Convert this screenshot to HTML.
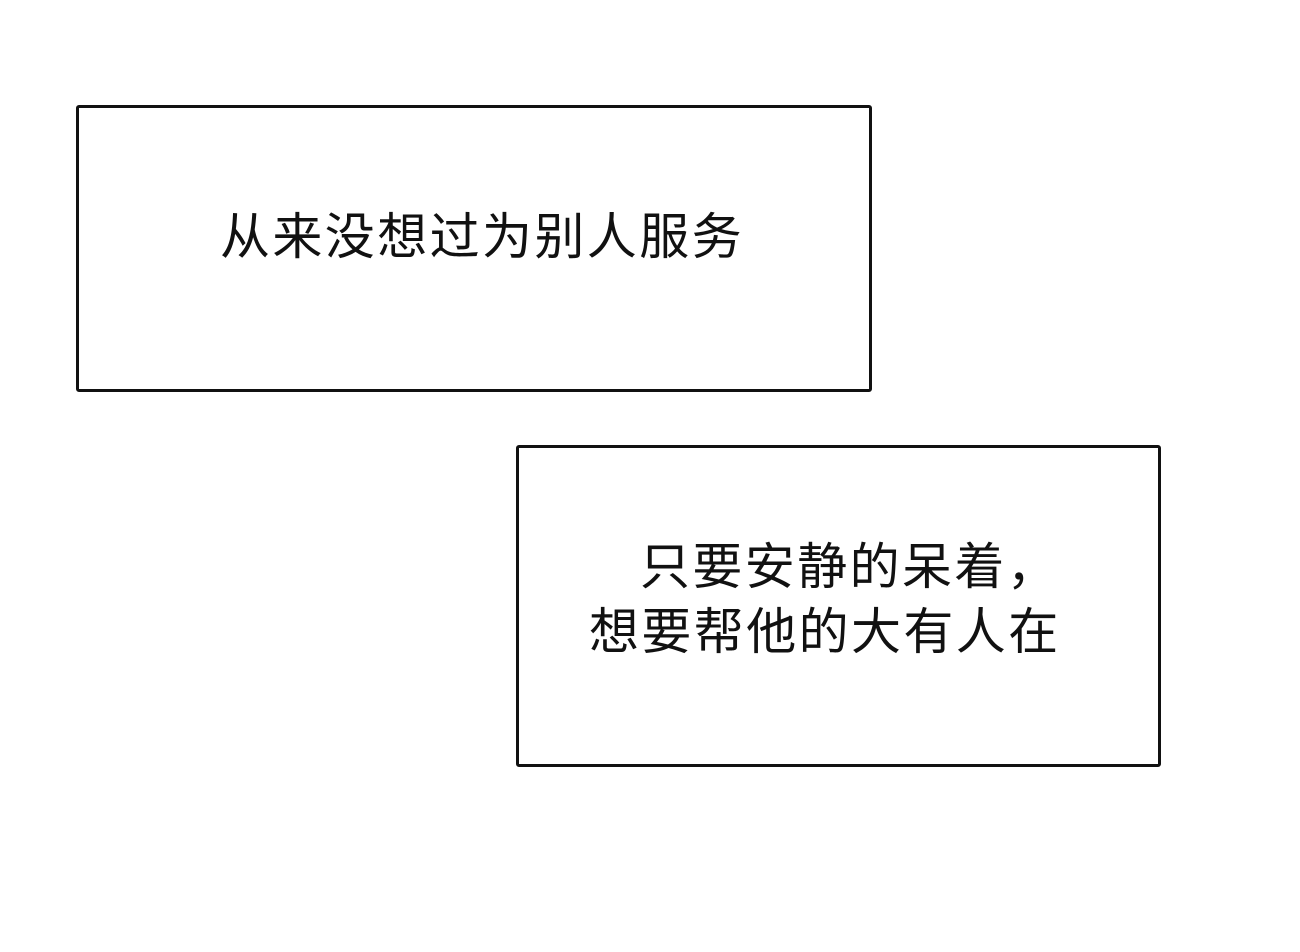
<!DOCTYPE html>
<html><head><meta charset="utf-8"><style>
html,body{margin:0;padding:0;background:#fff;width:1300px;height:952px;overflow:hidden;position:relative}
.box{position:absolute;border:3px solid #111;border-radius:3px;box-sizing:border-box;background:#fff}
.t{position:absolute;font-family:"Liberation Sans","Noto Sans CJK SC",sans-serif;font-size:50px;color:#111;white-space:nowrap;line-height:1;letter-spacing:2.4px}
</style></head><body>
<div class="box" style="left:76px;top:105px;width:796px;height:287px"></div>
<div class="t" style="left:220px;top:212px">从来没想过为别人服务</div>
<div class="box" style="left:516px;top:445px;width:645px;height:322px"></div>
<div class="t" style="left:640px;top:542px">只要安静的呆着，</div>
<div class="t" style="left:589px;top:607px">想要帮他的大有人在</div>
</body></html>
